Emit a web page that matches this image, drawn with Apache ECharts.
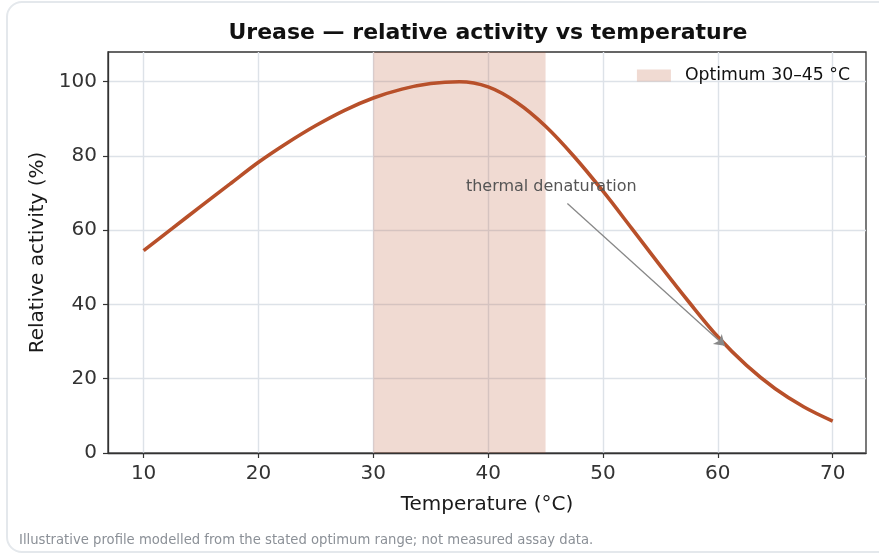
<!DOCTYPE html>
<html>
<head>
<meta charset="utf-8">
<script src="https://cdn.jsdelivr.net/npm/echarts@6/dist/echarts.min.js"></script>
<style>
html,body{margin:0;padding:0;background:#fff;width:879px;height:555px;overflow:hidden;}
#card{position:absolute;left:6px;top:1px;width:900px;height:552px;border:2px solid #e4e8ec;border-radius:16px;box-sizing:border-box;background:#fff;}
#chart{position:absolute;left:0;top:0;width:879px;height:555px;}
</style>
</head>
<body>
<div id="card"></div>
<div id="chart"></div>
<script>
// Data
const temperature = [10, 12.5, 15, 17.5, 20, 22.5, 25, 27.5, 30, 32.5, 35, 37.5, 40, 42.5, 45, 47.5, 50, 52.5, 55, 57.5, 60, 62.5, 65, 67.5, 70];
const activity    = [54.5, 60.5, 66.5, 72.4, 78.3, 83.5, 88.2, 92.3, 95.6, 98.0, 99.5, 100.0, 98.6, 94.4, 88.0, 79.8, 70.5, 60.5, 50.4, 40.6, 31.3, 23.6, 17.3, 12.4, 8.6];
const xTicks = [10, 20, 30, 40, 50, 60, 70];
const yTicks = [0, 20, 40, 60, 80, 100];
const optimumRange = [30, 45];
const optimumName = 'Optimum 30\u201345 \u00b0C';
const annotationText = 'thermal denaturation';

const lineColor = '#b8502a';
const bandColor = 'rgba(183,80,42,0.21)';
const font = 'DejaVu Sans';

const chart = echarts.init(document.getElementById('chart'), null, {renderer: 'canvas'});
const option = {
  backgroundColor: 'transparent',
  animation: false,
  textStyle: {fontFamily: font},
  grid: {left: 108, right: 13, top: 52, bottom: 102, show: true, borderColor: '#333', borderWidth: 1.3, backgroundColor: 'transparent'},
  graphic: [
    {type: 'text', x: 488, y: 33, style: {text: 'Urease \u2014 relative activity vs temperature', font: 'bold 22px "DejaVu Sans"', fill: '#111', textAlign: 'center', textVerticalAlign: 'middle'}},
    {type: 'text', x: 19, y: 541, style: {text: 'Illustrative profile modelled from the stated optimum range; not measured assay data.', font: '13.2px "DejaVu Sans"', fill: '#8b9097', textAlign: 'left', textVerticalAlign: 'middle'}}
  ],
  legend: {
    data: [optimumName],
    right: 24, top: 62,
    icon: 'rect', itemWidth: 34, itemHeight: 12,
    textStyle: {fontFamily: font, fontSize: 17.3, color: '#111', padding: [0, 0, 0, 9]},
    selectedMode: false
  },
  xAxis: {
    type: 'value', min: 6.9, max: 72.9,
    name: 'Temperature (\u00b0C)', nameLocation: 'middle', nameGap: 42,
    nameTextStyle: {fontFamily: font, fontSize: 20, color: '#1a1a1a'},
    axisLine: {show: true, onZero: false, lineStyle: {color: '#333', width: 1.3}},
    axisTick: {show: true, length: 5, customValues: xTicks, lineStyle: {color: '#333', width: 1.2}},
    axisLabel: {customValues: xTicks, fontFamily: font, fontSize: 20, color: '#333', margin: 11},
    splitLine: {show: true, lineStyle: {color: '#dde2e8', width: 1.4}}
  },
  yAxis: {
    type: 'value', min: 0, max: 108,
    name: 'Relative activity (%)', nameLocation: 'middle', nameGap: 55,
    nameTextStyle: {fontFamily: font, fontSize: 20, color: '#1a1a1a'},
    axisLine: {show: true, lineStyle: {color: '#333', width: 1.3}},
    axisTick: {show: true, length: 5, customValues: yTicks, lineStyle: {color: '#333', width: 1.2}},
    axisLabel: {customValues: yTicks, fontFamily: font, fontSize: 20, color: '#333', margin: 11},
    splitLine: {show: true, lineStyle: {color: '#dde2e8', width: 1.4}}
  },
  series: [
    {
      name: optimumName, type: 'line', data: [], z: 1,
      itemStyle: {color: bandColor}, lineStyle: {color: bandColor},
      markArea: {silent: true, itemStyle: {color: bandColor}, label: {show: false},
        data: [[{xAxis: optimumRange[0]}, {xAxis: optimumRange[1]}]]}
    },
    {
      name: 'activity', type: 'line', z: 3,
      data: temperature.map((t, i) => [t, activity[i]]),
      smooth: 0.35, showSymbol: false, symbol: 'none',
      lineStyle: {color: lineColor, width: 3.6},
      itemStyle: {color: lineColor},
      markLine: {
        silent: true, symbol: ['none', 'arrow'], symbolSize: 10, z: 5,
        label: {show: false},
        lineStyle: {color: '#888', width: 1.3, type: 'solid'},
        data: [[{coord: [46.9, 67.2]}, {coord: [60.6, 28.9]}]]
      },
      markPoint: {
        silent: true, symbol: 'circle', symbolSize: 0,
        label: {show: true, position: 'inside', formatter: annotationText, fontFamily: font, fontSize: 16, color: '#555'},
        data: [{coord: [45.5, 71.6]}]
      }
    }
  ]
};
chart.setOption(option);
</script>
</body>
</html>
